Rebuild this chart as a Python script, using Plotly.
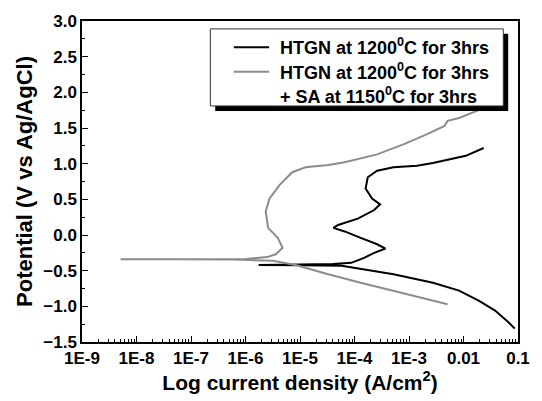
import plotly.graph_objects as go

# HTGN at 1200C for 3hrs (black)
i_htgn = [8.7e-2, 6.6e-2, 3.8e-2, 1.9e-2, 8.3e-3, 2.75e-3, 5.2e-4, 1.6e-4, 5.8e-5, 1.0e-5,
          1.74e-6, 1.0e-5, 4.0e-5, 8.7e-5, 1.5e-4, 2.3e-4, 3.7e-4, 2.6e-4, 1.3e-4, 6.6e-5,
          4.1e-5, 5.0e-5, 1.15e-4, 2.3e-4, 2.95e-4, 2.1e-4, 1.6e-4, 1.75e-4, 2.6e-4, 5.2e-4,
          1.4e-3, 2.75e-3, 1.1e-2, 2.35e-2]
e_htgn = [-1.31, -1.22, -1.06, -0.92, -0.78, -0.67, -0.55, -0.48, -0.43, -0.425,
          -0.42, -0.415, -0.405, -0.39, -0.32, -0.25, -0.19, -0.13, -0.04, 0.05,
          0.10, 0.14, 0.23, 0.35, 0.43, 0.51, 0.65, 0.81, 0.90, 0.95,
          0.97, 1.01, 1.11, 1.22]

# HTGN at 1200C for 3hrs + SA at 1150C for 3hrs (grey)
i_sa = [5.1e-3, 2.1e-3, 5.2e-4, 1.3e-4, 3.3e-5, 8.3e-6, 3.2e-6, 6.3e-7, 5.0e-8, 5.1e-9,
        1.0e-7, 1.0e-6, 2.5e-6, 3.6e-6, 4.8e-6, 3.9e-6, 2.6e-6, 2.35e-6, 2.75e-6, 4.2e-6,
        7.2e-6, 1.26e-5, 3.3e-5, 6.6e-5, 2.6e-4, 7.9e-4, 2.1e-3, 4.5e-3, 5.1e-3, 8.3e-3,
        1.9e-2, 2.5e-2]
e_sa = [-0.97, -0.90, -0.78, -0.67, -0.55, -0.42, -0.36, -0.345, -0.34, -0.34,
        -0.337, -0.335, -0.31, -0.27, -0.18, -0.04, 0.10, 0.33, 0.51, 0.70,
        0.88, 0.95, 0.98, 1.02, 1.13, 1.27, 1.41, 1.53, 1.60, 1.64,
        1.75, 1.80]

x_tickvals = [1e-9, 1e-8, 1e-7, 1e-6, 1e-5, 1e-4, 1e-3, 1e-2, 1e-1]
x_ticktext = ["1E-9", "1E-8", "1E-7", "1E-6", "1E-5", "1E-4", "1E-3", "0.01", "0.1"]

legend_lines = ["HTGN at 1200<sup>0</sup>C for 3hrs",
                "HTGN at 1200<sup>0</sup>C for 3hrs",
                "+ SA at 1150<sup>0</sup>C for 3hrs"]
colors = ["#000000", "#8c8c8c"]

FONT = "Liberation Sans, Arial, sans-serif"

fig = go.Figure()
fig.add_trace(go.Scatter(x=i_htgn, y=e_htgn, mode="lines",
                         name="HTGN at 1200<sup>0</sup>C for 3hrs",
                         line=dict(color=colors[0], width=2)))
fig.add_trace(go.Scatter(x=i_sa, y=e_sa, mode="lines",
                         name="HTGN at 1200<sup>0</sup>C for 3hrs + SA at 1150<sup>0</sup>C for 3hrs",
                         line=dict(color=colors[1], width=2)))

# ---- hand-drawn legend box with drop shadow (paper coordinates) ----
def px_x(p):
    return (p - 82) / 445.0

def px_y(p):
    return (342 - p) / 325.0

fig.add_shape(type="rect", xref="paper", yref="paper", layer="above",
              x0=px_x(218), x1=px_x(517), y0=px_y(108), y1=px_y(30),
              fillcolor="black", line=dict(width=0))
fig.add_shape(type="rect", xref="paper", yref="paper", layer="above",
              x0=px_x(213), x1=px_x(512), y0=px_y(103), y1=px_y(25),
              fillcolor="white", line=dict(color="#333333", width=1))
for c, ly in zip(colors, [43.5, 68.5]):
    fig.add_shape(type="line", xref="paper", yref="paper", layer="above",
                  x0=px_x(237), x1=px_x(273), y0=px_y(ly), y1=px_y(ly),
                  line=dict(color=c, width=2))
for txt, ty in zip(legend_lines, [43, 68, 92]):
    fig.add_annotation(text=txt, xref="paper", yref="paper",
                       x=px_x(282), y=px_y(ty), xanchor="left", yanchor="middle",
                       showarrow=False,
                       font=dict(size=18, weight="bold", family=FONT, color="black"))

fig.update_layout(
    width=542, height=401,
    margin=dict(l=82, r=15, t=17, b=59),
    paper_bgcolor="white", plot_bgcolor="white",
    font=dict(family=FONT, color="black"),
    showlegend=False,
    xaxis=dict(type="log", range=[-9, -1],
               tickvals=x_tickvals, ticktext=x_ticktext,
               ticks="inside", ticklen=6, tickwidth=1, tickcolor="black",
               minor=dict(ticks="inside", ticklen=3, tickcolor="black", dtick="D1", showgrid=False),
               showline=True, linecolor="black", linewidth=1.5, mirror=True,
               showgrid=False, zeroline=False,
               tickfont=dict(size=17, weight="bold", family=FONT),
               title=dict(text="Log current density (A/cm<sup>2</sup>)",
                          font=dict(size=21, weight="bold", family=FONT), standoff=6)),
    yaxis=dict(range=[-1.5, 3.0], dtick=0.5, tickformat=".1f",
               ticks="inside", ticklen=6, tickwidth=1, tickcolor="black",
               minor=dict(ticks="inside", ticklen=3, tickcolor="black", dtick=0.25, showgrid=False),
               showline=True, linecolor="black", linewidth=1.5, mirror=True,
               showgrid=False, zeroline=False,
               tickfont=dict(size=17, weight="bold", family=FONT),
               title=dict(text="Potential (V vs Ag/AgCl)",
                          font=dict(size=22, weight="bold", family=FONT), standoff=5)),
)

fig.write_html("out.html")
